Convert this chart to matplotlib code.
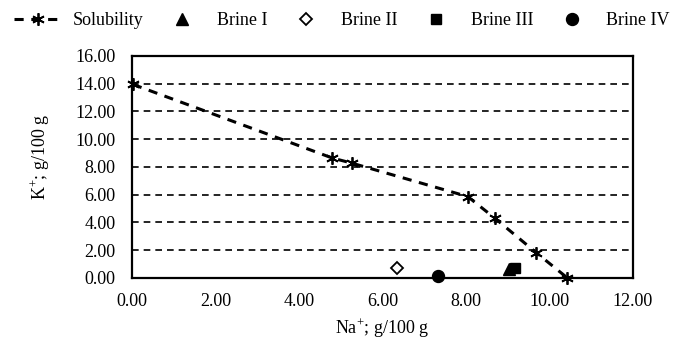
import matplotlib
matplotlib.use("Agg")
import matplotlib.pyplot as plt

plt.rcParams["font.family"] = ["Liberation Serif", "DejaVu Serif"]
plt.rcParams["mathtext.fontset"] = "custom"
plt.rcParams["mathtext.rm"] = "Liberation Serif"

# solubility curve
sol_na = [0.02, 4.80, 5.26, 8.04, 8.69, 9.68, 10.43]
sol_k = [13.95, 8.64, 8.28, 5.87, 4.31, 1.83, 0.0]

# brines (Na+, K+)
brine1 = (9.03, 0.68)
brine2 = (6.34, 0.74)
brine3 = (9.17, 0.72)
brine4 = (7.34, 0.17)

x_ticks = [0, 2, 4, 6, 8, 10, 12]
y_ticks = [0, 2, 4, 6, 8, 10, 12, 14, 16]

fig = plt.figure(figsize=(6.88, 3.39), dpi=100)
ax = fig.add_axes([0.192, 0.180, 0.728, 0.655])

for yv in y_ticks[1:-1]:
    ax.axhline(yv, color="black", lw=1.2, ls=(0, (4, 3)), zorder=1)

ax.plot(sol_na, sol_k, color="black", lw=2.2, ls=(0, (3, 2.5)),
        marker=(6, 2, 0), ms=9, mew=1.3, label="Solubility", zorder=3, clip_on=False)
ax.plot(*brine1, ls="none", marker="^", color="black", ms=8, label="Brine I", zorder=4)
ax.plot(*brine2, ls="none", marker="D", mfc="white", mec="black", mew=1.3, ms=6,
        label="Brine II", zorder=4)
ax.plot(*brine3, ls="none", marker="s", color="black", ms=7.5, label="Brine III", zorder=4)
ax.plot(*brine4, ls="none", marker="o", color="black", ms=8.6, label="Brine IV", zorder=4,
        clip_on=False)

ax.set_xlim(0, 12)
ax.set_ylim(0, 16)
ax.set_xticks(x_ticks)
ax.set_yticks(y_ticks)
ax.set_xticklabels([f"{v:.2f}" for v in x_ticks])
ax.set_yticklabels([f"{v:.2f}" for v in y_ticks])
ax.tick_params(length=0, labelsize=13)
ax.tick_params(axis="y", pad=12)
ax.tick_params(axis="x", pad=11)
for s in ax.spines.values():
    s.set_linewidth(1.6)
    s.set_color("black")

ax.set_xlabel(r"Na$^{+}$; g/100 g", fontsize=13)
ax.set_ylabel(r"K$^{+}$; g/100 g", fontsize=13)
ax.xaxis.set_label_coords(0.5, -0.172)
ax.yaxis.set_label_coords(-0.160, 0.545)

fig.legend(loc="center", bbox_to_anchor=(0.497, 0.94), ncol=5, frameon=False,
           fontsize=13, handlelength=2.66, handletextpad=0.6, columnspacing=0.8)

fig.savefig("out.png", dpi=100)
